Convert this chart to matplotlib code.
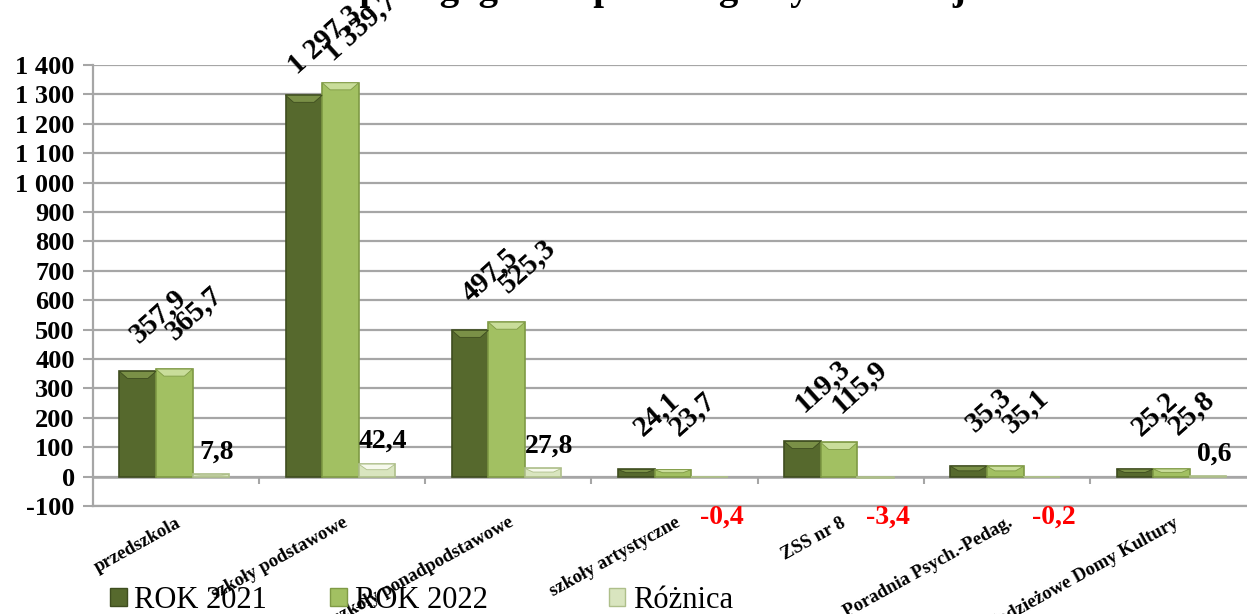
import numpy as np
import matplotlib.pyplot as plt
from matplotlib.patches import Polygon, Patch

categories = ["przedszkola", "szkoły podstawowe", "szkoły ponadpodstawowe",
              "szkoły artystyczne", "ZSS nr 8", "Poradnia Psych.-Pedag.",
              "Młodzieżowe Domy Kultury"]
rok_2021 = [357.9, 1297.3, 497.5, 24.1, 119.3, 35.3, 25.2]
rok_2022 = [365.7, 1339.7, 525.3, 23.7, 115.9, 35.1, 25.8]
roznica = [7.8, 42.4, 27.8, -0.4, -3.4, -0.2, 0.6]
series_names = ["ROK 2021", "ROK 2022", "Różnica"]
yticks = list(range(-100, 1401, 100))

title = "Zatrudnienie pedagogów w poszczególnych rodzajach"

plt.rcParams["font.family"] = ["Liberation Serif", "DejaVu Serif"]

# face, bevel top, edge
styles = [("#56692D", "#7A9047", "#3E4D1F"),
          ("#A2C062", "#C9DD9A", "#7F9A45"),
          ("#D9E5BF", "#F6F9EC", "#AEBF8A")]


def pl_fmt(v):
    s = f"{abs(v):,.1f}".replace(",", " ").replace(".", ",")
    return ("-" if v < 0 else "") + s


def bevel_bar(ax, xc, w, h, face, top, edge):
    ax.bar(xc, h, w, color=face, edgecolor=edge, linewidth=1.2, zorder=3)
    bx = w * 0.22
    by = min(abs(h) * 0.45, 24) * np.sign(h)
    poly = Polygon([(xc - w / 2, h), (xc + w / 2, h),
                    (xc + w / 2 - bx, h - by), (xc - w / 2 + bx, h - by)],
                   closed=True, facecolor=top, edgecolor=edge, linewidth=0.6,
                   zorder=4)
    ax.add_patch(poly)


fig = plt.figure(figsize=(12.47, 6.14), dpi=100)
ax = fig.add_axes([0.0744, 0.176, 0.933, 0.718])

x = np.arange(len(categories))
w = 0.22
offsets = [-0.23, -0.01, 0.21]
data = [rok_2021, rok_2022, roznica]

for s, vals in enumerate(data):
    face, top, edge = styles[s]
    for i, v in enumerate(vals):
        bevel_bar(ax, x[i] + offsets[s], w, v, face, top, edge)

# labels for the two years, rotated
for s in range(2):
    for i, v in enumerate(data[s]):
        ax.annotate(pl_fmt(v), (x[i] + offsets[s], v), xytext=(20, 56),
                    textcoords="offset pixels", ha="center", va="center",
                    rotation=42, fontsize=21, fontweight="bold", zorder=6,
                    annotation_clip=False)

# difference labels
for i, v in enumerate(roznica):
    if v >= 0:
        ax.annotate(pl_fmt(v), (x[i] + offsets[2], v), xytext=(6, 10),
                    textcoords="offset pixels", ha="center", va="bottom",
                    fontsize=20, fontweight="bold", color="black", zorder=6)
    else:
        ax.annotate(pl_fmt(v), (x[i] + offsets[2], 0), xytext=(12, -28),
                    textcoords="offset pixels", ha="center", va="top",
                    fontsize=20, fontweight="bold", color="#FF0000", zorder=6)

ax.set_xlim(-0.5, len(categories) - 0.5)
ax.set_ylim(-100, 1400)
ax.set_yticks(yticks)
ax.set_yticklabels([pl_fmt(t).replace(",0", "") for t in yticks],
                   fontsize=19, fontweight="bold")
ax.yaxis.grid(True, color="#A6A6A6", linewidth=1.6, zorder=0)
ax.set_axisbelow(True)
ax.tick_params(axis="y", length=7, color="#A6A6A6", width=1.5, pad=6)

ax.set_xticks(x)
ax.set_xticklabels(categories, rotation=29, ha="right",
                   rotation_mode="anchor", fontsize=13.5, fontweight="bold")
ax.tick_params(axis="x", length=0, pad=6)

# category ticks on the zero line
ax.vlines(x[:-1] + 0.5, -25, 0, color="#A6A6A6", linewidth=1.5, zorder=2)
ax.axhline(0, color="#A6A6A6", linewidth=1.8, zorder=2)

for side in ["top", "right"]:
    ax.spines[side].set_visible(False)
ax.spines["left"].set_color("#A6A6A6")
ax.spines["left"].set_linewidth(1.6)
ax.spines["bottom"].set_color("#A6A6A6")
ax.spines["bottom"].set_linewidth(1.6)

fig.text(0.463, 1.002, title, ha="center", va="baseline", fontsize=28,
         fontweight="bold")

# legend entries sit at uneven spots in the original
legend_x = [0.088, 0.265, 0.488]
for s in range(3):
    h = Patch(facecolor=styles[s][0], edgecolor=styles[s][2],
              label=series_names[s])
    fig.legend(handles=[h], loc="center left",
               bbox_to_anchor=(legend_x[s], 0.022), frameon=False,
               fontsize=22, handlelength=0.55, handleheight=0.55,
               handletextpad=0.25, borderaxespad=0, borderpad=0)

fig.savefig("out.png", dpi=100)
